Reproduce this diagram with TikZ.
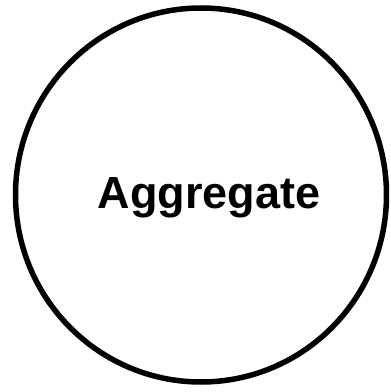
\documentclass[tikz,border=0pt]{standalone}
\usepackage{fontspec}
\setmainfont{Liberation Sans}
\usetikzlibrary{shapes.geometric}
\begin{document}
\begin{tikzpicture}[x=1pt,y=1pt]
  \useasboundingbox (0,0) rectangle (391,392);
  \node[draw,ellipse,line width=5.5pt,minimum width=371pt,minimum height=374pt,inner sep=0pt] (agg) at (201,197) {};
  \node[font=\fontsize{45}{48}\selectfont\bfseries,anchor=base] (aggtext) at (209,183) {Aggregate};
\end{tikzpicture}
\end{document}
